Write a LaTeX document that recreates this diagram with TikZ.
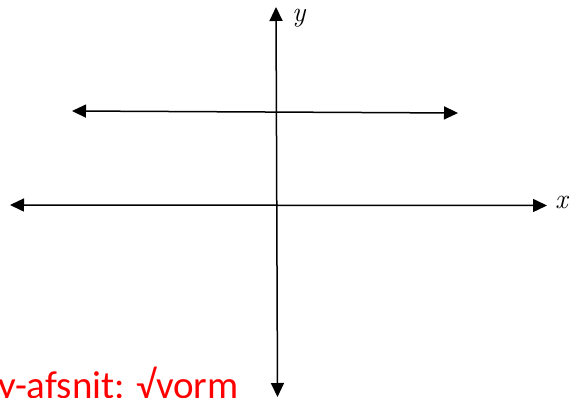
\documentclass[tikz,border=0pt]{standalone}
\usepackage{fontspec}
\newfontfamily\carlito{Carlito}
\usetikzlibrary{arrows.meta}
\tikzset{
  axis/.style={line width=1.5pt, {Triangle[length=14pt,width=13pt]}-{Triangle[length=14pt,width=13pt]}},
  axlabel/.style={inner sep=0pt, font=\fontsize{28}{30}\selectfont\itshape},
  redtext/.style={inner sep=0pt, text=red, font=\carlito\fontsize{39}{41}\selectfont}
}
\begin{document}
\begin{tikzpicture}[x=1pt,y=-1pt]
\useasboundingbox (0,0) rectangle (572,398);
% y axis
\coordinate (ytop) at (276,7);
\coordinate (ybot) at (277.5,397);
\draw[axis] (ybot) -- (ytop);
% x axis
\coordinate (xl) at (10,205);
\coordinate (xr) at (547,205.5);
\draw[axis] (xl) -- (xr);
% upper horizontal line
\coordinate (hl) at (72,111);
\coordinate (hr) at (458,113);
\draw[axis] (hl) -- (hr);
% labels
\node[axlabel, anchor=base west] (ylab) at (292,22) {y};
\node[axlabel, anchor=base west] (xlab) at (555,208) {x};
\node[redtext, anchor=base west] (txt) at (-2,398) {y-afsnit: √vorm};
\end{tikzpicture}
\end{document}
